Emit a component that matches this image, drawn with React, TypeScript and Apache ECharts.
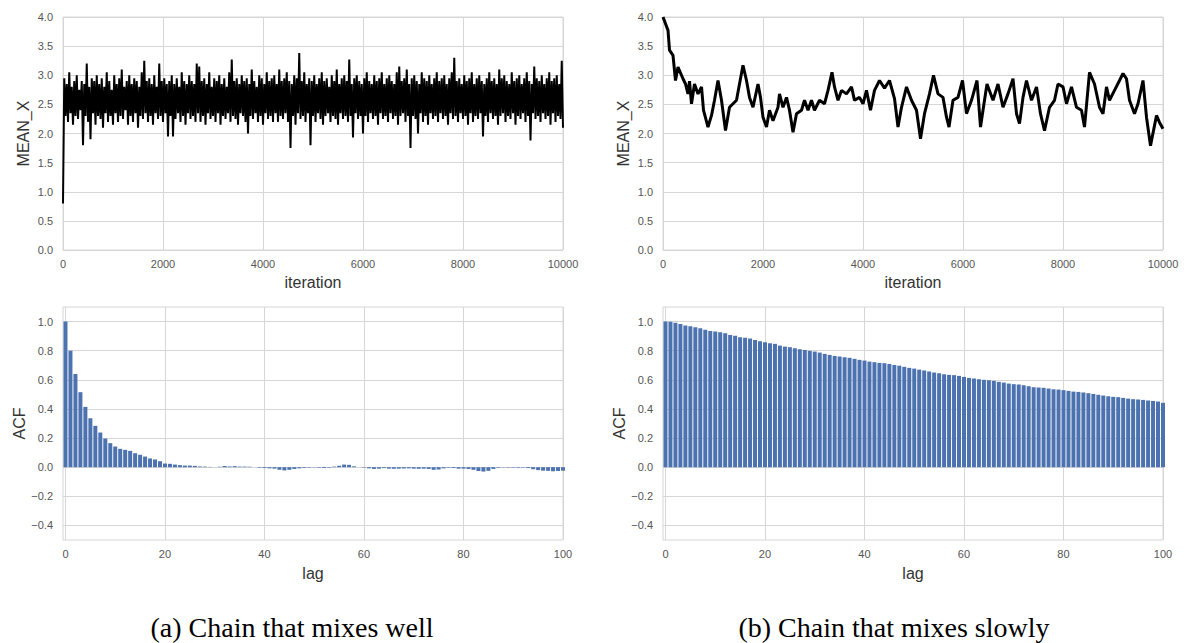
import React, { useEffect, useRef } from "react";
import * as echarts from "echarts";

// ---- Data ----
const TRACE_A_STEP = 25; // iterations between sampled points of chain (a)
const traceA: number[] = [
  0.8, 2.95, 2.3, 2.85, 2.2, 3.05, 2.35, 2.8, 2.15, 2.9,
  2.3, 3.0, 2.25, 2.75, 2.4, 2.9, 1.8, 2.85, 2.3, 3.2,
  2.2, 2.8, 1.9, 2.95, 2.35, 2.9, 2.15, 3.0, 2.3, 2.85,
  2.25, 2.95, 2.1, 2.8, 2.35, 3.05, 2.2, 2.9, 2.3, 2.75,
  2.15, 3.0, 2.35, 2.85, 2.2, 2.95, 2.3, 3.1, 2.25, 2.8,
  2.4, 2.9, 2.15, 3.0, 2.3, 2.85, 2.2, 2.95, 2.35, 2.9,
  2.1, 2.8, 2.3, 3.05, 2.25, 3.25, 2.35, 2.9, 2.2, 2.95,
  2.3, 2.85, 2.15, 3.0, 2.35, 2.8, 2.25, 3.2, 2.3, 2.9,
  2.2, 2.95, 2.35, 2.85, 1.95, 2.9, 2.3, 3.0, 1.95, 2.85,
  2.25, 2.95, 2.35, 2.8, 2.2, 3.05, 2.3, 2.9, 2.15, 2.85,
  2.35, 3.0, 2.25, 2.9, 2.3, 2.85, 2.2, 3.2, 2.35, 3.15,
  2.2, 2.9, 2.3, 2.95, 2.15, 2.85, 2.35, 3.05, 2.25, 2.8,
  2.3, 2.95, 2.2, 2.9, 2.35, 3.0, 2.15, 2.85, 2.3, 2.95,
  2.25, 2.8, 2.35, 3.05, 2.2, 3.27, 2.3, 2.9, 2.25, 2.95,
  2.15, 2.85, 2.35, 3.0, 2.3, 2.9, 2.2, 2.95, 2.0, 2.85,
  2.3, 3.1, 2.25, 2.9, 2.35, 2.8, 2.2, 3.0, 2.3, 2.95,
  2.15, 2.85, 2.35, 3.05, 2.25, 2.9, 2.3, 2.95, 2.2, 3.0,
  2.35, 2.85, 2.2, 3.1, 2.3, 2.9, 2.25, 2.95, 2.35, 3.05,
  2.2, 2.9, 1.75, 2.85, 2.3, 3.0, 2.15, 2.95, 2.35, 3.38,
  2.25, 2.9, 2.3, 3.05, 2.2, 2.85, 2.35, 2.95, 1.8, 2.9,
  2.3, 3.0, 2.2, 2.85, 2.35, 2.95, 2.25, 3.05, 2.15, 2.9,
  2.3, 2.95, 2.35, 2.8, 2.2, 3.0, 2.3, 2.9, 2.25, 3.1,
  2.15, 2.85, 2.35, 2.95, 2.25, 3.0, 2.3, 2.9, 2.2, 3.27,
  2.3, 2.85, 1.93, 2.95, 2.35, 3.0, 2.25, 2.9, 2.3, 2.85,
  2.0, 2.95, 2.3, 3.05, 2.2, 2.9, 2.35, 2.85, 2.25, 3.0,
  2.3, 2.9, 2.15, 2.95, 2.35, 3.05, 2.25, 2.85, 2.3, 2.95,
  2.2, 3.0, 2.35, 2.9, 2.25, 2.85, 2.3, 3.05, 2.15, 3.15,
  2.3, 2.9, 2.35, 2.95, 2.2, 3.1, 2.3, 2.85, 1.75, 2.95,
  2.3, 3.0, 2.25, 2.9, 2.0, 2.85, 2.35, 3.05, 2.2, 2.95,
  2.3, 2.9, 2.15, 3.0, 2.35, 2.85, 2.25, 2.95, 2.3, 3.05,
  2.2, 2.9, 2.35, 2.95, 2.25, 3.0, 2.3, 2.85, 2.15, 2.95,
  2.35, 3.05, 2.25, 3.3, 2.3, 2.9, 2.2, 2.95, 2.35, 2.85,
  2.25, 3.0, 2.3, 2.9, 2.15, 2.95, 2.35, 3.05, 2.2, 2.85,
  2.3, 2.95, 2.25, 3.0, 2.35, 2.9, 1.95, 2.85, 2.3, 2.95,
  2.2, 3.05, 2.35, 2.9, 2.25, 2.95, 2.3, 2.85, 2.15, 3.1,
  2.3, 2.95, 2.35, 3.0, 2.2, 2.9, 2.3, 2.85, 2.25, 3.05,
  2.35, 2.9, 2.15, 2.95, 2.3, 3.0, 2.25, 2.85, 2.35, 2.95,
  2.2, 3.05, 2.3, 2.9, 1.88, 2.85, 2.35, 3.15, 2.25, 2.95,
  2.3, 2.9, 2.2, 3.0, 2.35, 2.85, 2.25, 2.95, 2.3, 3.05,
  2.15, 2.9, 2.35, 2.95, 2.2, 3.0, 2.3, 2.85, 2.25, 3.25,
  2.1,
];

const traceB: [number, number][] = [
  [0, 4.0], [100, 3.77], [130, 3.43], [200, 3.34], [250, 2.91], [300, 3.14], [400, 2.94],
  [450, 2.85], [500, 2.68], [530, 2.9], [570, 2.51], [630, 2.85], [700, 2.68], [770, 2.8],
  [810, 2.4], [900, 2.11], [970, 2.31], [1030, 2.57], [1100, 2.91], [1170, 2.57], [1250, 2.05],
  [1330, 2.45], [1400, 2.51], [1470, 2.57], [1530, 2.85], [1600, 3.17], [1670, 2.91], [1730, 2.62],
  [1800, 2.45], [1900, 2.85], [1950, 2.62], [2000, 2.28], [2070, 2.11], [2130, 2.4], [2200, 2.22],
  [2300, 2.45], [2330, 2.68], [2400, 2.45], [2470, 2.62], [2530, 2.4], [2600, 2.02], [2670, 2.34],
  [2770, 2.4], [2830, 2.57], [2900, 2.4], [2970, 2.57], [3030, 2.4], [3130, 2.57], [3230, 2.51],
  [3300, 2.74], [3380, 3.05], [3430, 2.8], [3500, 2.57], [3570, 2.74], [3670, 2.68], [3770, 2.8],
  [3830, 2.57], [3930, 2.62], [4000, 2.51], [4070, 2.74], [4150, 2.4], [4230, 2.74], [4330, 2.91],
  [4430, 2.78], [4530, 2.91], [4630, 2.6], [4700, 2.11], [4770, 2.45], [4870, 2.8], [4970, 2.57],
  [5070, 2.4], [5150, 1.91], [5230, 2.34], [5330, 2.68], [5410, 3.0], [5500, 2.68], [5600, 2.62],
  [5670, 2.28], [5720, 2.11], [5800, 2.57], [5900, 2.62], [5990, 2.91], [6070, 2.34], [6170, 2.57],
  [6280, 2.91], [6350, 2.11], [6430, 2.57], [6480, 2.85], [6600, 2.57], [6700, 2.85], [6800, 2.45],
  [6900, 2.68], [7000, 2.94], [7070, 2.34], [7130, 2.17], [7200, 2.62], [7270, 2.91], [7370, 2.57],
  [7470, 2.8], [7550, 2.34], [7630, 2.05], [7730, 2.45], [7830, 2.57], [7900, 2.85], [8000, 2.8],
  [8070, 2.51], [8170, 2.8], [8270, 2.45], [8370, 2.4], [8430, 2.11], [8530, 3.05], [8630, 2.85],
  [8730, 2.45], [8800, 2.34], [8870, 2.8], [8930, 2.57], [9030, 2.74], [9130, 2.91], [9200, 3.03],
  [9270, 2.94], [9330, 2.57], [9430, 2.34], [9500, 2.51], [9600, 2.91], [9670, 2.28], [9750, 1.79],
  [9810, 2.05], [9870, 2.31], [9930, 2.19], [10000, 2.08],
];

// ACF by lag 0..100
const acfA: number[] = [
  1.0, 0.8, 0.64, 0.515, 0.414, 0.336, 0.284, 0.238, 0.197, 0.165,
  0.142, 0.126, 0.119, 0.112, 0.096, 0.085, 0.073, 0.06, 0.053, 0.041,
  0.025, 0.023, 0.018, 0.014, 0.011, 0.011, 0.009, 0.005, 0.004, 0.002,
  0.0, 0.003, 0.008, 0.005, 0.007, 0.004, 0.004, 0.003, 0.0, -0.004,
  -0.006, -0.008, -0.01, -0.018, -0.022, -0.018, -0.012, -0.008, -0.005, -0.003,
  -0.002, -0.004, -0.006, -0.004, 0.004, 0.01, 0.018, 0.016, 0.006, 0.0,
  -0.003, -0.008, -0.012, -0.01, -0.006, -0.01, -0.011, -0.01, -0.009, -0.008,
  -0.01, -0.011, -0.01, -0.012, -0.018, -0.016, -0.008, -0.004, -0.006, -0.01,
  -0.01, -0.012, -0.018, -0.026, -0.03, -0.025, -0.012, -0.004, -0.002, -0.003,
  -0.004, -0.004, -0.003, -0.006, -0.014, -0.02, -0.024, -0.025, -0.028, -0.026,
  -0.024,
];

const acfB: number[] = [
  1.0, 0.998, 0.991, 0.984, 0.973, 0.968, 0.961, 0.954, 0.943, 0.936,
  0.931, 0.927, 0.92, 0.908, 0.902, 0.892, 0.888, 0.883, 0.874, 0.865,
  0.858, 0.851, 0.847, 0.835, 0.828, 0.824, 0.817, 0.81, 0.805, 0.799,
  0.794, 0.787, 0.778, 0.771, 0.764, 0.76, 0.755, 0.751, 0.744, 0.737,
  0.732, 0.725, 0.721, 0.716, 0.714, 0.709, 0.702, 0.697, 0.689, 0.682,
  0.677, 0.67, 0.664, 0.657, 0.65, 0.645, 0.638, 0.634, 0.632, 0.627,
  0.62, 0.613, 0.609, 0.604, 0.6, 0.597, 0.593, 0.586, 0.581, 0.574,
  0.57, 0.568, 0.563, 0.556, 0.549, 0.547, 0.545, 0.54, 0.535, 0.533,
  0.529, 0.524, 0.519, 0.517, 0.513, 0.508, 0.503, 0.497, 0.492, 0.487,
  0.483, 0.481, 0.476, 0.471, 0.467, 0.465, 0.462, 0.458, 0.455, 0.451,
  0.442,
];

const acfYTicks = [-0.4, -0.2, 0.0, 0.2, 0.4, 0.6, 0.8, 1.0];
const lagTicks = [0, 20, 40, 60, 80, 100];
const captions = ["(a) Chain that mixes well", "(b) Chain that mixes slowly"];

// ---- Styling ----
const GRID_COLOR = "#d6d6d6";
const LABEL_COLOR = "#555555";
const TITLE_COLOR = "#333333";
const BAR_COLOR = "#4c72b0";
const FONT = "'Liberation Sans', Arial, sans-serif";
const SERIF = "'Liberation Serif', 'Times New Roman', serif";

const fmt = (v: number) => (v < 0 ? "\u2212" + Math.abs(v).toFixed(1) : v.toFixed(1));
const fmtInt = (v: number) => String(Math.round(v));

export default function App() {
  const ref = useRef<HTMLDivElement>(null);

  useEffect(() => {
    if (!ref.current) return;
    const chart = echarts.init(ref.current, undefined, { renderer: "svg" });

    const grids = [
      { left: 63, top: 17, width: 500, height: 233 },
      { left: 663, top: 17, width: 500, height: 233 },
      { left: 63, top: 307, width: 500, height: 233 },
      { left: 663, top: 307, width: 500, height: 233 },
    ].map((g) => ({
      ...g,
      show: true,
      borderColor: GRID_COLOR,
      borderWidth: 1,
      backgroundColor: "#ffffff",
      containLabel: false,
    }));

    const splitLine = { show: true, lineStyle: { color: GRID_COLOR, width: 1 } };
    const labelBase = { color: LABEL_COLOR, fontSize: 11, fontFamily: FONT };
    const nameStyle = { color: TITLE_COLOR, fontSize: 16, fontFamily: FONT };

    const traceX = (i: number) => ({
      type: "value",
      gridIndex: i,
      min: 0,
      max: 10000,
      interval: 2000,
      axisLine: { show: false },
      axisTick: { show: false },
      splitLine,
      axisLabel: { ...labelBase, margin: 8, formatter: fmtInt },
      name: "iteration",
      nameLocation: "middle",
      nameGap: 24,
      nameTextStyle: nameStyle,
    });
    const traceY = (i: number) => ({
      type: "value",
      gridIndex: i,
      min: 0,
      max: 4,
      interval: 0.5,
      axisLine: { show: false },
      axisTick: { show: false },
      splitLine,
      axisLabel: { ...labelBase, margin: 10, formatter: fmt },
      name: "MEAN_X",
      nameLocation: "middle",
      nameGap: 32,
      nameTextStyle: nameStyle,
    });
    const lagX = (i: number) => ({
      type: "value",
      gridIndex: i,
      min: -0.5,
      max: 100,
      axisLine: { show: false },
      axisTick: { show: false, customValues: lagTicks },
      splitLine,
      axisLabel: { ...labelBase, margin: 8, customValues: lagTicks, formatter: fmtInt },
      name: "lag",
      nameLocation: "middle",
      nameGap: 25,
      nameTextStyle: nameStyle,
    });
    const acfY = (i: number) => ({
      type: "value",
      gridIndex: i,
      min: -0.5,
      max: 1.1,
      axisLine: { show: false },
      axisTick: { show: false, customValues: acfYTicks },
      splitLine,
      axisLabel: { ...labelBase, margin: 10, formatter: fmt, customValues: acfYTicks },
      name: "ACF",
      nameLocation: "middle",
      nameGap: 32,
      nameTextStyle: nameStyle,
    });

    const option: any = {
      animation: false,
      backgroundColor: "#ffffff",
      grid: grids,
      xAxis: [traceX(0), traceX(1), lagX(2), lagX(3)],
      yAxis: [traceY(0), traceY(1), acfY(2), acfY(3)],
      series: [
        {
          type: "line",
          xAxisIndex: 0,
          yAxisIndex: 0,
          data: traceA.map((v, i) => [i * TRACE_A_STEP, v]),
          showSymbol: false,
          lineStyle: { color: "#000000", width: 2 },
          silent: true,
        },
        {
          type: "line",
          xAxisIndex: 1,
          yAxisIndex: 1,
          data: traceB,
          showSymbol: false,
          lineStyle: { color: "#000000", width: 3 },
          silent: true,
        },
        {
          type: "bar",
          xAxisIndex: 2,
          yAxisIndex: 2,
          data: acfA.map((v, i) => [i, v]),
          barWidth: 4,
          itemStyle: { color: BAR_COLOR },
          silent: true,
        },
        {
          type: "bar",
          xAxisIndex: 3,
          yAxisIndex: 3,
          data: acfB.map((v, i) => [i, v]),
          barWidth: 4,
          itemStyle: { color: BAR_COLOR },
          silent: true,
        },
      ],
      graphic: [
        {
          type: "text",
          x: 292,
          y: 627,
          style: {
            text: captions[0],
            fontSize: 28,
            fontFamily: SERIF,
            fill: "#000000",
            align: "center",
            verticalAlign: "middle",
          },
        },
        {
          type: "text",
          x: 894,
          y: 627,
          style: {
            text: captions[1],
            fontSize: 28,
            fontFamily: SERIF,
            fill: "#000000",
            align: "center",
            verticalAlign: "middle",
          },
        },
      ],
    };

    chart.setOption(option);
    return () => chart.dispose();
  }, []);

  return (
    <div
      ref={ref}
      style={{ position: "absolute", left: 0, top: 0, width: 1184, height: 643, background: "#fff" }}
    />
  );
}
